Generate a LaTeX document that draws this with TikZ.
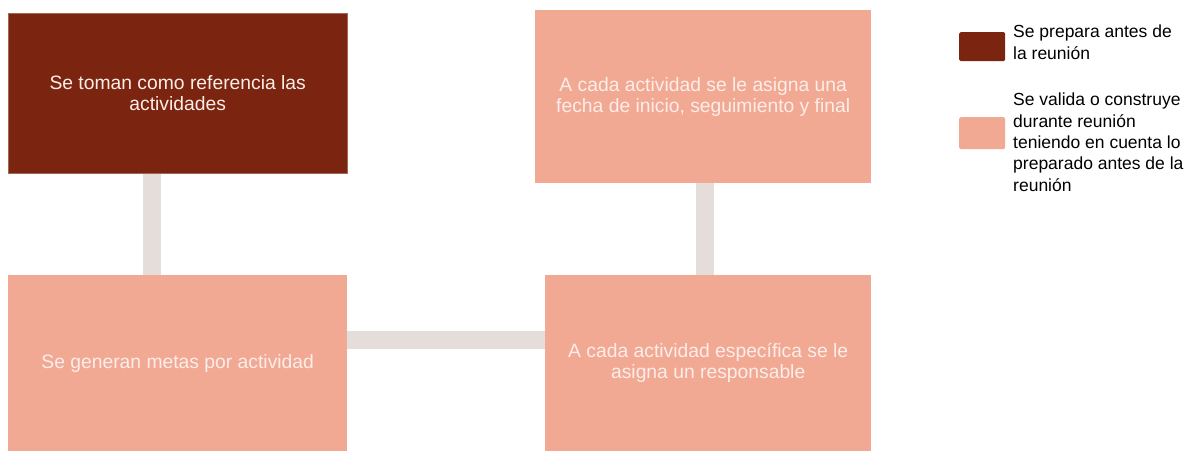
\documentclass[tikz,border=0pt]{standalone}
\usepackage{fontspec}
\setmainfont{Liberation Sans}
\definecolor{darkbox}{HTML}{7B2410}
\definecolor{lightbox}{HTML}{F2A994}
\definecolor{connc}{HTML}{E5DDD9}
\definecolor{lighttext}{HTML}{FDEDE8}
\begin{document}
\begin{tikzpicture}[x=1pt,y=-1pt,
  boxbase/.style={rectangle, inner sep=0pt, align=center, font=\fontsize{19.3}{21}\selectfont, anchor=north west},
  darkstep/.style={boxbase, fill=darkbox, text=lighttext, draw=darkbox!70!white, line width=0.4pt},
  lightstep/.style={boxbase, fill=lightbox, text=lighttext},
  conn/.style={draw=connc, line width=18pt},
  legtext/.style={anchor=north west, align=left, inner sep=0pt, font=\fontsize{17.5}{21.3}\selectfont, text=black},
  swatch/.style={rectangle, rounded corners=1.5pt, inner sep=0pt, anchor=north west}]
\useasboundingbox (0,0) rectangle (1185,451);
\node[darkstep, minimum width=339pt, minimum height=160pt] (b1) at (8,13) {};
\node[lightstep, minimum width=336pt, minimum height=173pt] (b2) at (535,10) {};
\node[lightstep, minimum width=339pt, minimum height=176pt] (b3) at (8,275) {};
\node[lightstep, minimum width=326pt, minimum height=176pt] (b4) at (545,275) {};
\draw[conn] ([xshift=144pt]b1.south west) -- ([xshift=144pt]b3.north west);
\draw[conn] ([yshift=-65pt]b3.north east) -- ([yshift=-65pt]b4.north west);
\draw[conn] ([xshift=170pt]b2.south west) -- ([xshift=160pt]b4.north west);
\node[darkstep, minimum width=339pt, minimum height=160pt] at (8,13) {Se toman como referencia las\\actividades};
\node[lightstep, minimum width=336pt, minimum height=173pt] at (535,10) {A cada actividad se le asigna una\\fecha de inicio, seguimiento y final};
\node[lightstep, minimum width=339pt, minimum height=176pt] at (8,275) {Se generan metas por actividad};
\node[lightstep, minimum width=326pt, minimum height=176pt] at (545,275) {A cada actividad específica se le\\asigna un responsable};
% legend
\node[swatch, fill=darkbox, minimum width=46pt, minimum height=29pt] (s1) at (959,32) {};
\node[swatch, fill=lightbox, minimum width=46pt, minimum height=32pt] (s2) at (959,117) {};
\node[legtext] (l1) at (1013,25) {Se prepara antes de\\la reunión};
\node[legtext] (l2) at (1013,93) {Se valida o construye\\durante reunión\\teniendo en cuenta lo\\preparado antes de la\\reunión};
\end{tikzpicture}
\end{document}
